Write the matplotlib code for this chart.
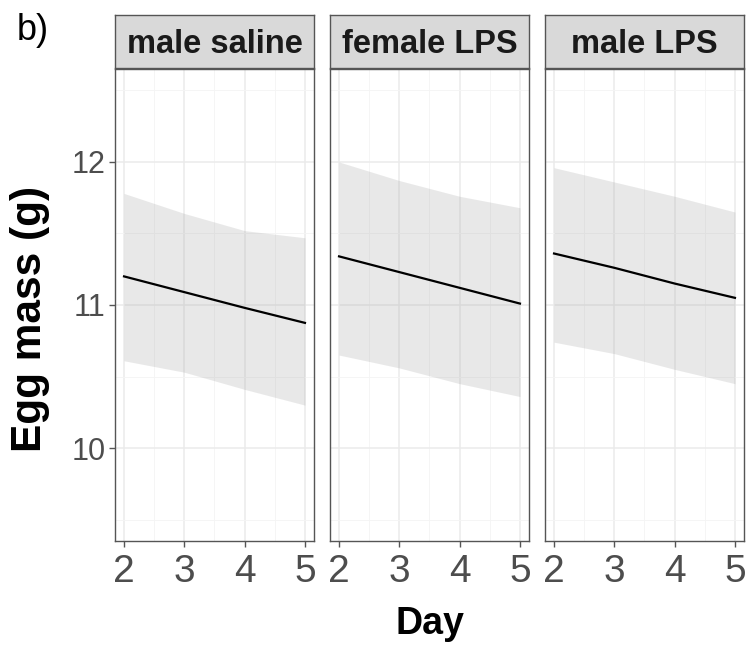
import numpy as np
import matplotlib.pyplot as plt

plt.rcParams['font.family'] = ['Liberation Sans', 'DejaVu Sans']

# data
panels = ['male saline', 'female LPS', 'male LPS']
days = [2, 3, 4, 5]
fit = {
    'male saline': [11.20, 11.09, 10.98, 10.875],
    'female LPS': [11.34, 11.23, 11.12, 11.01],
    'male LPS': [11.36, 11.26, 11.15, 11.05],
}
upper = {
    'male saline': [11.78, 11.64, 11.52, 11.47],
    'female LPS': [12.00, 11.87, 11.76, 11.68],
    'male LPS': [11.96, 11.86, 11.76, 11.65],
}
lower = {
    'male saline': [10.61, 10.53, 10.41, 10.30],
    'female LPS': [10.65, 10.56, 10.45, 10.36],
    'male LPS': [10.74, 10.66, 10.55, 10.45],
}
xticks = [2, 3, 4, 5]
yticks = [10, 11, 12]

fig = plt.figure(figsize=(7.49, 6.45), dpi=100)

lefts = [115, 330, 545]
W, H = 749, 645
pw = 199
bottom = 1 - 541 / H
ph = (541 - 69) / H

for i, name in enumerate(panels):
    ax = fig.add_axes([lefts[i] / W, bottom, pw / W, ph])
    ax.set_xlim(1.85, 5.15)
    ax.set_ylim(9.35, 12.65)
    ax.set_xticks(xticks)
    ax.set_xticks([2.5, 3.5, 4.5], minor=True)
    ax.set_yticks(yticks)
    ax.set_yticks([9.5, 10.5, 11.5, 12.5], minor=True)
    ax.grid(which='major', color='#EBEBEB', lw=1.1, zorder=0)
    ax.grid(which='minor', color='#F4F4F4', lw=0.6, zorder=0)
    ax.set_axisbelow(True)
    ax.fill_between(days, lower[name], upper[name], color='#999999',
                    alpha=0.22, lw=0, zorder=2)
    ax.plot(days, fit[name], color='black', lw=1.6, zorder=3)
    for s in ax.spines.values():
        s.set_color('#555555')
        s.set_linewidth(1.0)
    ax.tick_params(which='minor', length=0)
    ax.tick_params(which='major', length=4, width=1, color='#555555',
                   labelcolor='#4D4D4D')
    ax.tick_params(axis='x', labelsize=28, pad=5)
    ax.tick_params(axis='y', labelsize=22, pad=3)
    if i > 0:
        ax.set_yticklabels([])
        ax.tick_params(axis='y', length=0)
    else:
        ax.set_ylabel('Egg mass (g)', fontsize=30.5, fontweight='bold')
        ax.yaxis.set_label_coords(-0.325, 0.47)
    if i == 1:
        ax.set_xlabel('Day', fontsize=27, fontweight='bold', labelpad=12)

    # facet strip
    sax = fig.add_axes([lefts[i] / W, 1 - 68 / H, pw / W, 53 / H])
    sax.set_facecolor('#D9D9D9')
    sax.set_xticks([])
    sax.set_yticks([])
    for s in sax.spines.values():
        s.set_color('#555555')
        s.set_linewidth(1.0)
    sax.text(0.5, 0.45, name, ha='center', va='center', fontsize=23.5,
             fontweight='bold', color='#1A1A1A', transform=sax.transAxes)

fig.text(17 / W, 1 - 31 / H, 'b)', fontsize=26, va='center', ha='left')

fig.savefig('out.png', dpi=100)
